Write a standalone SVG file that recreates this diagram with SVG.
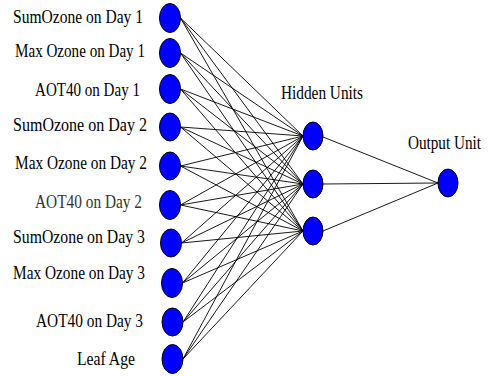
<svg xmlns="http://www.w3.org/2000/svg" width="492" height="376" viewBox="0 0 492 376">
  <style>
    .unit { fill: #0000ff; stroke: #000; stroke-width: 1; }
    .link { stroke: #000; stroke-width: 0.9; fill: none; }
    .lbl { font-family: "Liberation Serif", "Times New Roman", serif; font-size: 19px; fill: #000; }
    .lbl2 { font-family: "Liberation Serif", "Times New Roman", serif; font-size: 19px; fill: #333; }
  </style>
  <rect width="492" height="376" fill="#fff"/>

  <!-- weights: input layer to hidden layer, hidden layer to output -->
  <g id="connectors">
    <!-- to hidden 1 (303,136) -->
    <line class="link" x1="180.5" y1="18" x2="303" y2="136"/>
    <line class="link" x1="180.5" y1="53" x2="303" y2="136"/>
    <line class="link" x1="180.5" y1="89" x2="303" y2="136"/>
    <line class="link" x1="180.5" y1="127" x2="303" y2="136"/>
    <line class="link" x1="180.5" y1="166" x2="303" y2="136"/>
    <line class="link" x1="180.5" y1="205" x2="303" y2="136"/>
    <line class="link" x1="181.5" y1="243" x2="303" y2="136"/>
    <line class="link" x1="182.5" y1="283" x2="303" y2="136"/>
    <line class="link" x1="183" y1="322" x2="303" y2="136"/>
    <line class="link" x1="183" y1="359" x2="303" y2="136"/>
    <!-- to hidden 2 (303,184) -->
    <line class="link" x1="180.5" y1="18" x2="303" y2="184"/>
    <line class="link" x1="180.5" y1="53" x2="303" y2="184"/>
    <line class="link" x1="180.5" y1="89" x2="303" y2="184"/>
    <line class="link" x1="180.5" y1="127" x2="303" y2="184"/>
    <line class="link" x1="180.5" y1="166" x2="303" y2="184"/>
    <line class="link" x1="180.5" y1="205" x2="303" y2="184"/>
    <line class="link" x1="181.5" y1="243" x2="303" y2="184"/>
    <line class="link" x1="182.5" y1="283" x2="303" y2="184"/>
    <line class="link" x1="183" y1="322" x2="303" y2="184"/>
    <line class="link" x1="183" y1="359" x2="303" y2="184"/>
    <!-- to hidden 3 (303,231) -->
    <line class="link" x1="180.5" y1="18" x2="303" y2="231"/>
    <line class="link" x1="180.5" y1="53" x2="303" y2="231"/>
    <line class="link" x1="180.5" y1="89" x2="303" y2="231"/>
    <line class="link" x1="180.5" y1="127" x2="303" y2="231"/>
    <line class="link" x1="180.5" y1="166" x2="303" y2="231"/>
    <line class="link" x1="180.5" y1="205" x2="303" y2="231"/>
    <line class="link" x1="181.5" y1="243" x2="303" y2="231"/>
    <line class="link" x1="182.5" y1="283" x2="303" y2="231"/>
    <line class="link" x1="183" y1="322" x2="303" y2="231"/>
    <line class="link" x1="183" y1="359" x2="303" y2="231"/>
    <!-- hidden to output -->
    <line class="link" x1="323" y1="137" x2="438" y2="183"/>
    <line class="link" x1="323" y1="184" x2="438" y2="183"/>
    <line class="link" x1="323" y1="231" x2="438" y2="183"/>
  </g>

  <!-- input units -->
  <g id="in1"><ellipse class="unit" cx="170" cy="18" rx="10.5" ry="14.5"/>
    <text class="lbl" x="13" y="23" textLength="130" lengthAdjust="spacingAndGlyphs">SumOzone on Day 1</text></g>
  <g id="in2"><ellipse class="unit" cx="170" cy="53" rx="10.5" ry="14.5"/>
    <text class="lbl" x="15" y="57" textLength="130" lengthAdjust="spacingAndGlyphs">Max Ozone on Day 1</text></g>
  <g id="in3"><ellipse class="unit" cx="170" cy="89" rx="10.5" ry="14.5"/>
    <text class="lbl" x="35" y="96" textLength="105" lengthAdjust="spacingAndGlyphs">AOT40 on Day 1</text></g>
  <g id="in4"><ellipse class="unit" cx="170" cy="127" rx="10.5" ry="14"/>
    <text class="lbl" x="13" y="131" textLength="134" lengthAdjust="spacingAndGlyphs">SumOzone on Day 2</text></g>
  <g id="in5"><ellipse class="unit" cx="170" cy="166" rx="10.5" ry="14"/>
    <text class="lbl" x="15" y="169" textLength="132" lengthAdjust="spacingAndGlyphs">Max Ozone on Day 2</text></g>
  <g id="in6"><ellipse class="unit" cx="170" cy="205" rx="10.5" ry="14.5"/>
    <text class="lbl2" x="35" y="208" textLength="107" lengthAdjust="spacingAndGlyphs">AOT40 on Day 2</text></g>
  <g id="in7"><ellipse class="unit" cx="171" cy="243" rx="10.5" ry="14"/>
    <text class="lbl" x="13" y="243" textLength="132" lengthAdjust="spacingAndGlyphs">SumOzone on Day 3</text></g>
  <g id="in8"><ellipse class="unit" cx="172" cy="283" rx="10.5" ry="14.5"/>
    <text class="lbl" x="13" y="279" textLength="132" lengthAdjust="spacingAndGlyphs">Max Ozone on Day 3</text></g>
  <g id="in9"><ellipse class="unit" cx="172.5" cy="322" rx="10.5" ry="14"/>
    <text class="lbl" x="36" y="327" textLength="107" lengthAdjust="spacingAndGlyphs">AOT40 on Day 3</text></g>
  <g id="in10"><ellipse class="unit" cx="172.5" cy="359" rx="10.5" ry="14.5"/>
    <text class="lbl" x="77" y="365" textLength="58" lengthAdjust="spacingAndGlyphs">Leaf Age</text></g>

  <!-- hidden layer -->
  <g id="hidden-label"><text class="lbl" x="281" y="99" textLength="82" lengthAdjust="spacingAndGlyphs">Hidden Units</text></g>
  <g id="h1"><ellipse class="unit" cx="313" cy="136" rx="10" ry="14"/></g>
  <g id="h2"><ellipse class="unit" cx="313" cy="184" rx="10" ry="14"/></g>
  <g id="h3"><ellipse class="unit" cx="313" cy="231" rx="10" ry="14"/></g>

  <!-- output layer -->
  <g id="out"><ellipse class="unit" cx="448" cy="183" rx="10" ry="14"/>
    <text class="lbl" transform="translate(408 149) scale(0.8 1)" x="0" y="0">Output Unit</text></g>
</svg>
